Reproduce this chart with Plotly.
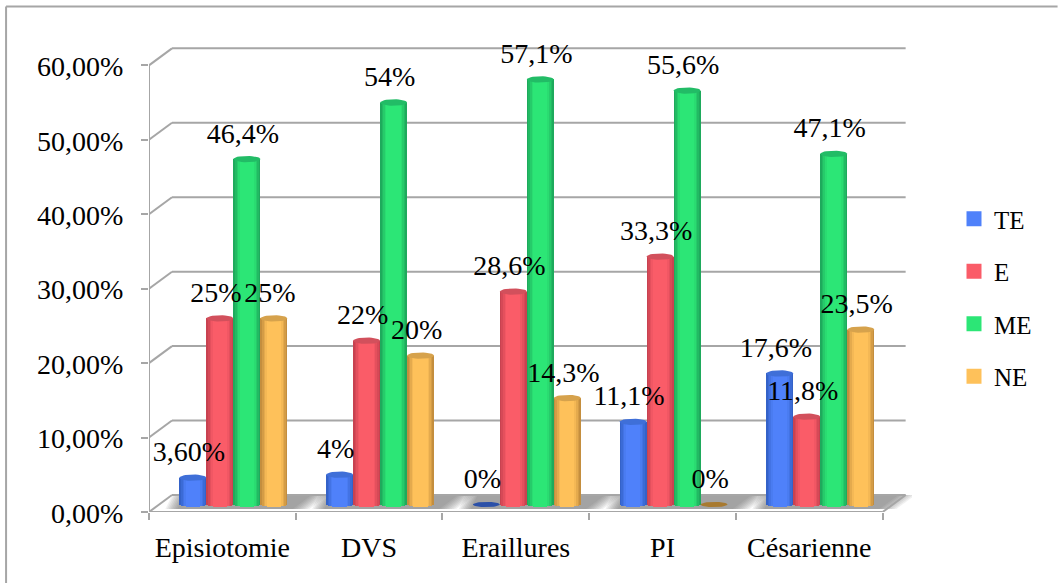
import math
import plotly.graph_objects as go

categories = ["Episiotomie", "DVS", "Eraillures", "PI", "Césarienne"]
series_names = ["TE", "E", "ME", "NE"]
te = [3.6, 4, 0, 11.1, 17.6]
e = [25, 22, 28.6, 33.3, 11.8]
me = [46.4, 54, 57.1, 55.6, 47.1]
ne = [25, 20, 14.3, 0, 23.5]
series_values = [te, e, me, ne]
te_labels = ["3,60%", "4%", "0%", "11,1%", "17,6%"]
e_labels = ["25%", "22%", "28,6%", "33,3%", "11,8%"]
me_labels = ["46,4%", "54%", "57,1%", "55,6%", "47,1%"]
ne_labels = ["25%", "20%", "14,3%", "0%", "23,5%"]
series_labels = [te_labels, e_labels, me_labels, ne_labels]
y_ticks = [0, 10, 20, 30, 40, 50, 60]
y_tick_labels = ["0,00%", "10,00%", "20,00%", "30,00%", "40,00%", "50,00%", "60,00%"]

base_colors = [(79, 129, 250), (250, 92, 104), (44, 230, 118), (254, 193, 90)]
edge_colors = [(52, 98, 200), (200, 66, 80), (30, 170, 92), (196, 142, 62)]
top_colors = ["#3f6fd8", "#d2505c", "#22bc66", "#d6a24c"]
zero_colors = ["#2b50a8", "#a02c38", "#128048", "#a87a30"]
FONT = "Liberation Serif"
GREY = "#a6a6a6"

W, H = 1058, 583
X0_PX, CAT_PX, Y0_PX, UNIT_PX = 149.0, 146.8, 512.0, 7.45
px_x = lambda p: p / CAT_PX
px_y = lambda p: p / UNIT_PX
XMAX, YMAX = 5.2, 63.0
DX, DY = px_x(23), px_y(17)
BAR = px_x(27)
GROUP_SHIFT = px_x(11)
RX, RY_TOP, RY_BOT = BAR / 2, px_y(3.2), px_y(2.6)
BASE = px_y(7.5)


def bar_center(i, s):
    return i + 0.5 + GROUP_SHIFT + (s - 1.5) * BAR


def ellipse(cx, cy, ry, n=32):
    xs = [cx + RX * math.cos(2 * math.pi * k / n) for k in range(n + 1)]
    ys = [cy + ry * math.sin(2 * math.pi * k / n) for k in range(n + 1)]
    return xs, ys


shapes = []


def add_poly(points, fill, opacity=1.0):
    path = "M " + " L ".join(f"{x:.4f},{y:.4f}" for x, y in points) + " Z"
    shapes.append(dict(type="path", path=path, xref="x", yref="y", fillcolor=fill,
                       opacity=opacity, line=dict(width=0), layer="below"))


def add_line(x0, y0, x1, y1):
    shapes.append(dict(type="line", x0=x0, y0=y0, x1=x1, y1=y1, xref="x", yref="y",
                       line=dict(color=GREY, width=2), layer="below"))


# floor shadows
for i in range(5):
    left = i + 0.5 + GROUP_SHIFT - 2 * BAR
    right = i + 0.5 + GROUP_SHIFT + 2 * BAR
    for k in range(8):
        a = left - px_x(14 - k * 1.7)
        b = right + px_x(18 - k * 2.4)
        y0 = 0.4
        shear = DX * (y0 / DY)
        add_poly([(a, y0), (b + shear, y0), (b + DX, DY), (a + DX * 0.3, DY)], "#555555", 0.085)

# walls
for t in y_ticks[1:]:
    add_line(0, t, DX, t + DY)
    add_line(DX, t + DY, 5 + DX, t + DY)
add_line(0, 0, DX, DY)
add_line(DX, DY, 5 + DX, DY)
add_line(5, 0, 5 + DX, DY)
add_line(0, 0, 5, 0)
add_line(0, 0, 0, 60)

# outer frame (top and left only)
PW, PH = XMAX * CAT_PX, YMAX * UNIT_PX
shapes.append(dict(type="line", xref="paper", yref="paper", x0=(6 - X0_PX) / PW, x1=(W - X0_PX) / PW,
                   y0=(Y0_PX - 6) / PH, y1=(Y0_PX - 6) / PH, line=dict(color=GREY, width=2)))
shapes.append(dict(type="line", xref="paper", yref="paper", x0=(6 - X0_PX) / PW, x1=(6 - X0_PX) / PW,
                   y0=(Y0_PX - 6) / PH, y1=(Y0_PX - H) / PH, line=dict(color=GREY, width=2)))

fig = go.Figure()

# cylinder sides as nested bars, widest/darkest first
LEVELS = 9
for s, vals in enumerate(series_values):
    for lv in range(LEVELS):
        f = lv / (LEVELS - 1)
        width = BAR * (1 - f * 0.94)
        shade = min(1, f * 2.2)
        c = tuple(round(edge_colors[s][j] + (base_colors[s][j] - edge_colors[s][j]) * shade) for j in range(3))
        u = width / BAR
        drop = RY_BOT * (1 - u * u) ** 0.5
        xs, bases, heights = [], [], []
        for i, v in enumerate(vals):
            if v > 0:
                xs.append(bar_center(i, s))
                bases.append(BASE - drop)
                heights.append(v + drop)
        fig.add_trace(go.Bar(x=xs, y=heights, base=bases, width=width, showlegend=False, hoverinfo="skip",
                             marker=dict(color=f"rgb{c}", line=dict(width=0))))

# cylinder tops and zero discs
for s, vals in enumerate(series_values):
    for i, v in enumerate(vals):
        xs, ys = ellipse(bar_center(i, s), BASE + v, RY_TOP if v > 0 else RY_BOT)
        fig.add_trace(go.Scatter(x=xs, y=ys, mode="lines", fill="toself", showlegend=False, hoverinfo="skip",
                                 fillcolor=top_colors[s] if v > 0 else zero_colors[s], line=dict(width=0)))

# data labels
for s, vals in enumerate(series_values):
    fig.add_trace(go.Scatter(x=[bar_center(i, s) - px_x(4) for i in range(5)],
                             y=[v + BASE + px_y(23.5) for v in vals],
                             text=series_labels[s], mode="text", textposition="middle center", showlegend=False,
                             textfont=dict(family=FONT, size=28, color="black"), cliponaxis=False, hoverinfo="skip"))

# legend
for s, name in enumerate(series_names):
    fig.add_trace(go.Scatter(x=[None], y=[None], mode="markers", name=name, legendgroup=name,
                             marker=dict(symbol="square", size=15, color=f"rgb{base_colors[s]}")))

fig.update_layout(
    width=W, height=H, barmode="overlay", bargap=0,
    paper_bgcolor="white", plot_bgcolor="rgba(0,0,0,0)",
    margin=dict(l=X0_PX, r=W - X0_PX - XMAX * CAT_PX, b=H - Y0_PX, t=Y0_PX - YMAX * UNIT_PX, pad=0, autoexpand=False),
    shapes=shapes,
    xaxis=dict(range=[0, XMAX], tickmode="array", tickvals=[i + 0.5 for i in range(5)], ticktext=categories,
               showgrid=False, zeroline=False, showline=False, ticks="", ticklabelstandoff=16,
               tickfont=dict(family=FONT, size=28, color="black"),
               minor=dict(tickmode="array", tickvals=list(range(6)), ticks="outside", ticklen=7, tickwidth=2, tickcolor=GREY, showgrid=False)),
    yaxis=dict(range=[0, YMAX], tickmode="array", tickvals=y_ticks, ticktext=y_tick_labels,
               showgrid=False, zeroline=False, showline=False, ticks="outside", ticklen=7, tickwidth=2, tickcolor=GREY,
               ticklabelstandoff=12, ticklabelshift=1, tickfont=dict(family=FONT, size=28, color="black")),
    legend=dict(xref="container", yref="container", x=954 / W, y=1 - 196 / H, xanchor="left", yanchor="top",
                font=dict(family=FONT, size=25, color="black"), tracegroupgap=17, bgcolor="rgba(0,0,0,0)"),
)
fig.write_html("out.html", config=dict(displayModeBar=False), post_script="document.body.style.margin='0';")
